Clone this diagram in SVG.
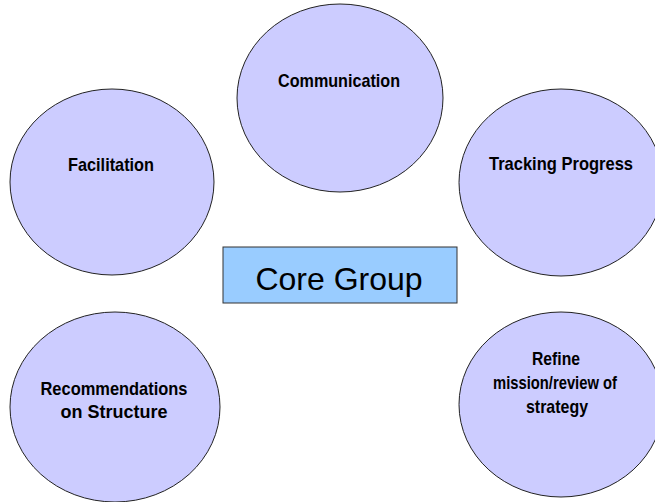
<svg xmlns="http://www.w3.org/2000/svg" width="655" height="502" viewBox="0 0 655 502">
<style>
.bubble{fill:#ccccff;stroke:#222;stroke-width:1}
.lbl{font-family:"Liberation Sans",Arial,sans-serif;font-weight:bold;font-size:19px;fill:#000;text-anchor:middle}
.core{fill:#99ccff;stroke:#333;stroke-width:1}
.coretxt{font-family:"Liberation Sans",Arial,sans-serif;font-size:32px;fill:#000;text-anchor:middle}
</style>
<rect width="655" height="502" fill="#ffffff"/>
<g id="connectors"/>
<g id="communication">
<ellipse class="bubble" cx="340" cy="98" rx="103" ry="94"/>
<text class="lbl" x="339" y="87" textLength="122" lengthAdjust="spacingAndGlyphs">Communication</text>
</g>
<g id="facilitation">
<ellipse class="bubble" cx="112" cy="182" rx="102" ry="93"/>
<text class="lbl" x="111" y="171" textLength="86" lengthAdjust="spacingAndGlyphs">Facilitation</text>
</g>
<g id="tracking">
<ellipse class="bubble" cx="561" cy="182.5" rx="102" ry="93.5"/>
<text class="lbl" x="561" y="170" textLength="144" lengthAdjust="spacingAndGlyphs">Tracking Progress</text>
</g>
<g id="recommendations">
<ellipse class="bubble" cx="115" cy="407" rx="105" ry="95"/>
<text class="lbl" x="114" y="395" textLength="147" lengthAdjust="spacingAndGlyphs">Recommendations</text>
<text class="lbl" x="114" y="418" textLength="107" lengthAdjust="spacingAndGlyphs">on Structure</text>
</g>
<g id="refine">
<ellipse class="bubble" cx="561" cy="404.5" rx="102" ry="92.5"/>
<text class="lbl" x="556" y="365" textLength="48" lengthAdjust="spacingAndGlyphs">Refine</text>
<text class="lbl" x="555" y="389" textLength="124" lengthAdjust="spacingAndGlyphs">mission/review of</text>
<text class="lbl" x="557" y="413" textLength="62" lengthAdjust="spacingAndGlyphs">strategy</text>
</g>
<g id="core-group">
<rect class="core" x="223" y="247" width="234" height="56"/>
<text class="coretxt" x="339" y="290">Core Group</text>
</g>
</svg>
